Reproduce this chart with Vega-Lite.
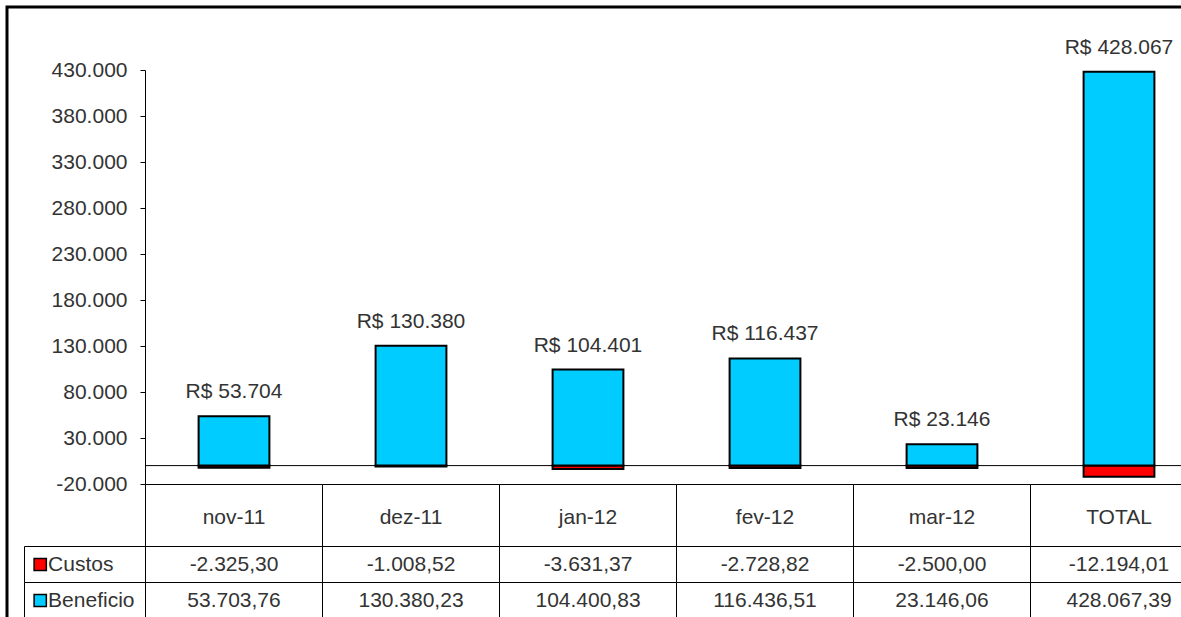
{
  "$schema": "https://vega.github.io/schema/vega-lite/v6.json",
  "width": 1177,
  "height": 613,
  "autosize": {"type": "none"},
  "padding": {"left": 7, "top": 7, "right": -3, "bottom": -3},
  "background": "white",
  "config": {
    "view": {"stroke": "#000", "strokeWidth": 3},
    "font": "Liberation Sans",
    "locale": {"number": {"decimal": ",", "thousands": ".", "grouping": [3], "currency": ["R$ ", ""], "minus": "-"}},
    "text": {"font": "Liberation Sans", "fontSize": 21, "color": "#333"}
  },
  "datasets": {
    "vals": [
      {"cat": "nov-11", "serie": "Custos", "value": -2325.30},
      {"cat": "nov-11", "serie": "Beneficio", "value": 53703.76},
      {"cat": "dez-11", "serie": "Custos", "value": -1008.52},
      {"cat": "dez-11", "serie": "Beneficio", "value": 130380.23},
      {"cat": "jan-12", "serie": "Custos", "value": -3631.37},
      {"cat": "jan-12", "serie": "Beneficio", "value": 104400.83},
      {"cat": "fev-12", "serie": "Custos", "value": -2728.82},
      {"cat": "fev-12", "serie": "Beneficio", "value": 116436.51},
      {"cat": "mar-12", "serie": "Custos", "value": -2500.00},
      {"cat": "mar-12", "serie": "Beneficio", "value": 23146.06},
      {"cat": "TOTAL", "serie": "Custos", "value": -12194.01},
      {"cat": "TOTAL", "serie": "Beneficio", "value": 428067.39}
    ],
    "hdr": [
      {"cat": "nov-11", "part": "header"},
      {"cat": "dez-11", "part": "header"},
      {"cat": "jan-12", "part": "header"},
      {"cat": "fev-12", "part": "header"},
      {"cat": "mar-12", "part": "header"},
      {"cat": "TOTAL", "part": "header"}
    ],
    "labs": [
      {"col": "lab", "row": "Custos"},
      {"col": "lab", "row": "Beneficio"}
    ]
  },
  "layer": [
    {
      "data": {"name": "hdr"},
      "encoding": {
        "x": {"field": "cat", "type": "nominal", "sort": null, "axis": null,
              "scale": {"domain": ["nov-11", "dez-11", "jan-12", "fev-12", "mar-12", "TOTAL"], "range": [138.5, 1200.5], "padding": 0}},
        "y": {"field": "part", "type": "nominal", "axis": null,
              "scale": {"domain": ["header"], "range": [477.5, 539.5], "padding": 0}}
      },
      "layer": [
        {"mark": {"type": "rect", "fill": "#fff", "stroke": "#000", "strokeWidth": 1}},
        {"mark": {"type": "text", "dy": 2}, "encoding": {"text": {"field": "cat"}}}
      ]
    },
    {
      "data": {"name": "vals"},
      "encoding": {
        "x": {"field": "cat", "type": "nominal", "sort": null, "axis": null,
              "scale": {"domain": ["nov-11", "dez-11", "jan-12", "fev-12", "mar-12", "TOTAL"], "range": [138.5, 1200.5], "padding": 0}},
        "y": {"field": "serie", "type": "nominal", "axis": null,
              "scale": {"domain": ["Custos", "Beneficio"], "range": [539.5, 611.5], "padding": 0}}
      },
      "layer": [
        {"mark": {"type": "rect", "fill": "#fff", "stroke": "#000", "strokeWidth": 1}},
        {"mark": {"type": "text"}, "encoding": {"text": {"field": "value", "format": ",.2f"}}}
      ]
    },
    {
      "data": {"name": "labs"},
      "encoding": {
        "y": {"field": "row", "type": "nominal", "axis": null,
              "scale": {"domain": ["Custos", "Beneficio"], "range": [539.5, 611.5], "padding": 0}}
      },
      "layer": [
        {"mark": {"type": "rect", "fill": "#fff", "stroke": "#000", "strokeWidth": 1},
         "encoding": {"x": {"field": "col", "type": "nominal", "axis": null, "scale": {"domain": ["lab"], "range": [17.5, 138.5], "padding": 0}}}},
        {"mark": {"type": "point", "shape": "square", "filled": true, "size": 150, "stroke": "#000", "strokeWidth": 1.5, "opacity": 1},
         "encoding": {
           "x": {"field": "col", "type": "nominal", "bandPosition": 0.13, "axis": null, "scale": {"domain": ["lab"], "range": [17.5, 138.5], "padding": 0}},
           "color": {"field": "row", "type": "nominal", "legend": null, "scale": {"domain": ["Custos", "Beneficio"], "range": ["#FF0000", "#00CCFF"]}}
         }},
        {"mark": {"type": "text", "align": "left"},
         "encoding": {
           "x": {"field": "col", "type": "nominal", "bandPosition": 0.195, "axis": null, "scale": {"domain": ["lab"], "range": [17.5, 138.5], "padding": 0}},
           "text": {"field": "row"}
         }}
      ]
    },
    {
      "data": {"name": "vals"},
      "encoding": {
        "x": {"field": "cat", "type": "nominal", "sort": null, "axis": null,
              "scale": {"domain": ["nov-11", "dez-11", "jan-12", "fev-12", "mar-12", "TOTAL"], "range": [138.5, 1200.5], "padding": 0}}
      },
      "layer": [
        {
          "mark": {"type": "bar", "width": {"band": 0.4}, "stroke": "#000", "strokeWidth": 2},
          "encoding": {
            "y": {"field": "value", "type": "quantitative",
                  "scale": {"domain": [-20000, 430000], "range": [477, 63], "nice": false, "zero": false},
                  "axis": {"values": [-20000, 30000, 80000, 130000, 180000, 230000, 280000, 330000, 380000, 430000],
                           "format": ",.0f", "offset": -138, "tickSize": 5, "labelPadding": 13,
                           "labelFontSize": 21, "labelFont": "Liberation Sans", "labelColor": "#333",
                           "domainColor": "#000", "tickColor": "#000", "grid": false, "title": null}},
            "color": {"field": "serie", "type": "nominal", "legend": null,
                      "scale": {"domain": ["Custos", "Beneficio"], "range": ["#FF0000", "#00CCFF"]}}
          }
        },
        {
          "transform": [{"filter": "datum.serie === 'Beneficio'"}],
          "mark": {"type": "text", "baseline": "bottom", "dy": -14},
          "encoding": {
            "y": {"field": "value", "type": "quantitative", "stack": null},
            "text": {"field": "value", "format": "$,.0f"}
          }
        },
        {
          "data": {"values": [{"k": 0}]},
          "mark": {"type": "rule", "color": "#000", "strokeWidth": 1},
          "encoding": {
            "x": {"datum": "nov-11", "type": "nominal", "bandPosition": 0},
            "x2": {"value": "width"},
            "y": {"datum": 0, "type": "quantitative"}
          }
        }
      ]
    }
  ],
  "resolve": {"scale": {"x": "independent", "y": "independent", "color": "independent"}}
}
